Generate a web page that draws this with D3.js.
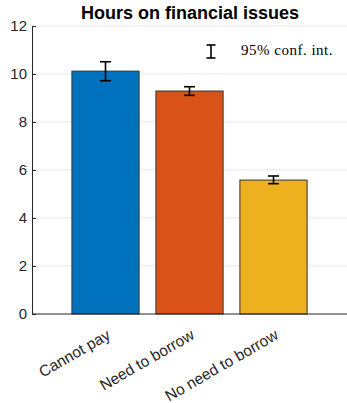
<!DOCTYPE html>
<html>
<head>
<meta charset="utf-8">
<script src="https://cdn.jsdelivr.net/npm/d3@7"></script>
<style>
  html, body { margin: 0; padding: 0; background: #fff; }
  svg { display: block; }
</style>
</head>
<body>
<svg id="chart" width="347" height="403"></svg>
<script>
// Mean hours spent on financial issues by borrowing situation, with 95% CIs
const categories = ["Cannot pay", "Need to borrow", "No need to borrow"];
const means = [10.12, 9.29, 5.58];
const ciLow = [9.72, 9.11, 5.43];
const ciHigh = [10.51, 9.47, 5.75];
const barColors = ["#0072BD", "#D95319", "#EDB120"];
const yTicks = [0, 2, 4, 6, 8, 10, 12];
const titleText = "Hours on financial issues";
const legendText = "95% conf. int.";

const svg = d3.select("#chart");
const plotLeft = 32, plotRight = 347, plotTop = 26, plotBottom = 314;
const axisColor = "#262626";
const font = "Arial, 'Liberation Sans', sans-serif";

const x = d3.scaleBand().domain(categories).range([plotLeft, plotRight])
  .paddingInner(0.2).paddingOuter(0.475);
const y = d3.scaleLinear().domain([0, 12]).range([plotBottom, plotTop]);

// grid
svg.append("g").selectAll("line").data(yTicks.filter(d => d > 0)).join("line")
  .attr("x1", plotLeft).attr("x2", plotRight)
  .attr("y1", d => y(d)).attr("y2", d => y(d))
  .attr("stroke", "#e6e6e6").attr("stroke-width", 1);

// bars
svg.append("g").selectAll("rect").data(categories).join("rect")
  .attr("x", d => x(d)).attr("width", x.bandwidth())
  .attr("y", (d, i) => y(means[i]))
  .attr("height", (d, i) => y(0) - y(means[i]))
  .attr("fill", (d, i) => barColors[i])
  .attr("stroke", "#333").attr("stroke-width", 1);

// error bars
const cap = 5.5;
const eb = svg.append("g").attr("stroke", "#000").attr("stroke-width", 1.6);
categories.forEach((c, i) => {
  const cx = x(c) + x.bandwidth() / 2;
  eb.append("line").attr("x1", cx).attr("x2", cx).attr("y1", y(ciLow[i])).attr("y2", y(ciHigh[i]));
  eb.append("line").attr("x1", cx - cap).attr("x2", cx + cap).attr("y1", y(ciLow[i])).attr("y2", y(ciLow[i]));
  eb.append("line").attr("x1", cx - cap).attr("x2", cx + cap).attr("y1", y(ciHigh[i])).attr("y2", y(ciHigh[i]));
});

// y axis
const yAxis = svg.append("g").attr("transform", `translate(${plotLeft},0)`)
  .call(d3.axisLeft(y).tickValues(yTicks).tickSizeInner(-4).tickSizeOuter(0).tickPadding(8));
yAxis.select(".domain").attr("stroke", axisColor);
yAxis.selectAll(".tick line").attr("stroke", axisColor);
yAxis.selectAll(".tick text").attr("fill", axisColor)
  .style("font-family", font).style("font-size", "15px");
yAxis.selectAll(".tick text").attr("x", -5);

// x axis line
svg.append("line").attr("x1", plotLeft).attr("x2", plotRight)
  .attr("y1", plotBottom).attr("y2", plotBottom).attr("stroke", axisColor).attr("stroke-width", 1.2);

// x labels, rotated
svg.append("g").selectAll("text").data(categories).join("text")
  .attr("transform", d => `translate(${x(d) + x.bandwidth() / 2 + 6},${plotBottom + 24}) rotate(-30)`)
  .attr("text-anchor", "end")
  .attr("fill", axisColor)
  .style("font-family", font).style("font-size", "15.5px")
  .text(d => d);

// title
svg.append("text").attr("x", 190).attr("y", 19).attr("text-anchor", "middle")
  .attr("fill", "#000").style("font-family", font).style("font-size", "18px")
  .style("font-weight", "bold").text(titleText);

// legend
const lx = 211, ly1 = 45, ly2 = 58;
const lg = svg.append("g").attr("stroke", "#000").attr("stroke-width", 1.6);
lg.append("line").attr("x1", lx).attr("x2", lx).attr("y1", ly1).attr("y2", ly2);
lg.append("line").attr("x1", lx - 4.5).attr("x2", lx + 4.5).attr("y1", ly1).attr("y2", ly1);
lg.append("line").attr("x1", lx - 4.5).attr("x2", lx + 4.5).attr("y1", ly2).attr("y2", ly2);
svg.append("text").attr("x", 241).attr("y", 55)
  .attr("fill", "#000").style("font-family", "'Liberation Serif', 'DejaVu Serif', serif")
  .style("font-size", "15px").style("letter-spacing", "0.5px").text(legendText);
</script>
</body>
</html>
